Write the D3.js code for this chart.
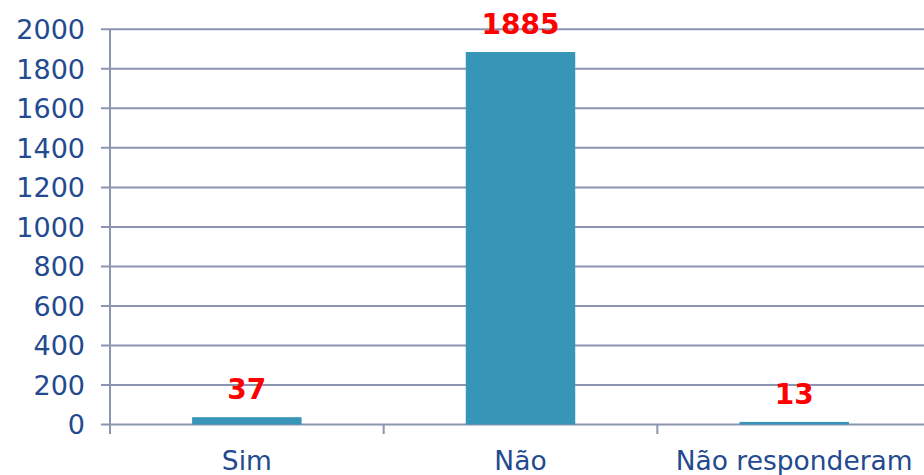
<!DOCTYPE html>
<html>
<head>
<meta charset="utf-8">
<script src="https://cdn.jsdelivr.net/npm/d3@7"></script>
<style>
  body { margin: 0; background: #fff; }
  text { font-family: "DejaVu Sans", Verdana, sans-serif; }
</style>
</head>
<body>
<script>
const w = 924;
const h = 475;

const categories = ["Sim", "Não", "Não responderam"];
const values = [37, 1885, 13];
const yTicks = [0, 200, 400, 600, 800, 1000, 1200, 1400, 1600, 1800, 2000];

const gridColor = "#8c94b0";
const textColor = "#23498f";

let svg = d3.select("body").append("svg")
    .attr("width", w)
    .attr("height", h);

var x = d3.scaleBand()
    .domain(categories)
    .range([110, 931])
    .padding(0);

var y = d3.scaleLinear()
    .domain([0, 2000])
    .range([424.5, 29.3]);

// gridlines
svg.append("g")
    .selectAll("line")
    .data(yTicks)
    .join("line")
    .attr("x1", 101)
    .attr("x2", w)
    .attr("y1", d => y(d))
    .attr("y2", d => y(d))
    .attr("stroke", gridColor)
    .attr("stroke-width", 2);

// y labels
svg.append("g")
    .selectAll("text")
    .data(yTicks)
    .join("text")
    .attr("x", 85)
    .attr("y", d => y(d))
    .attr("dy", "0.36em")
    .attr("text-anchor", "end")
    .attr("font-size", 27)
    .attr("fill", textColor)
    .text(d => d);

// vertical axis line
svg.append("line")
    .attr("x1", 110).attr("x2", 110)
    .attr("y1", y(2000)).attr("y2", 434)
    .attr("stroke", gridColor)
    .attr("stroke-width", 2);

// x tick marks between categories
svg.append("g")
    .selectAll("line")
    .data(categories.slice(1))
    .join("line")
    .attr("x1", d => x(d))
    .attr("x2", d => x(d))
    .attr("y1", y(0))
    .attr("y2", 434)
    .attr("stroke", gridColor)
    .attr("stroke-width", 2);

// bars
const bw = x.bandwidth();
svg.append("g")
    .selectAll("rect")
    .data(values)
    .join("rect")
    .attr("x", (d, i) => x(categories[i]) + bw * 0.3)
    .attr("width", bw * 0.4)
    .attr("y", d => y(d))
    .attr("height", d => y(0) - y(d))
    .attr("fill", "#3795b8");

// value labels
svg.append("g")
    .selectAll("text")
    .data(values)
    .join("text")
    .attr("x", (d, i) => x(categories[i]) + bw / 2)
    .attr("y", d => y(d) - 18)
    .attr("text-anchor", "middle")
    .attr("font-size", 28)
    .attr("font-weight", "bold")
    .attr("fill", "#ff0000")
    .text(d => d);

// category labels
svg.append("g")
    .selectAll("text")
    .data(categories)
    .join("text")
    .attr("x", d => x(d) + bw / 2)
    .attr("y", 470)
    .attr("text-anchor", "middle")
    .attr("font-size", 26.5)
    .attr("fill", textColor)
    .text(d => d);
</script>
</body>
</html>
